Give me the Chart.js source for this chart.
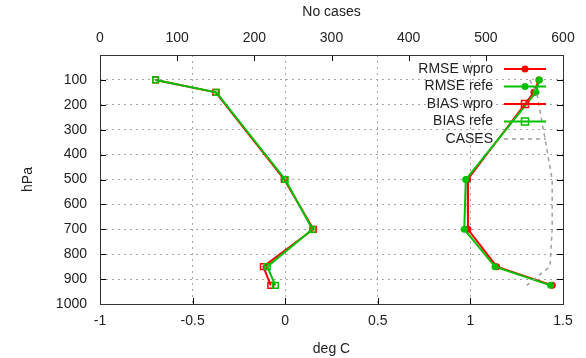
<!DOCTYPE html>
<html>
<head>
<meta charset="utf-8">
<script src="https://cdn.jsdelivr.net/npm/chart.js@4.4.0/dist/chart.umd.min.js"></script>
<style>
html,body{margin:0;padding:0;background:#fff}
#wrap{width:586px;height:358px}
</style>
</head>
<body>
<div id="wrap"><canvas id="myChart" width="586" height="358"></canvas></div>
<script>
// pressure levels (hPa)
const levels=[100,150,500,700,850,925];
// deg C
const rmseWpro=[1.37,1.343,0.985,0.987,1.142,1.442];
const rmseRefe=[1.372,1.354,0.975,0.967,1.133,1.433];
const biasWpro=[-0.70,-0.375,-0.005,0.152,-0.118,-0.078];
const biasRefe=[-0.70,-0.372,0.0,0.147,-0.097,-0.053];
// number of cases (top axis)
const cases=[557,566,586,586,583,553];

const xTicks=[-1,-0.5,0,0.5,1,1.5];
const x2Ticks=[0,100,200,300,400,500,600];
const yTicks=[100,200,300,400,500,600,700,800,900,1000];

const RED='#ff0000', GREEN='#00c000', GREY='#a0a0a0', TXT='#222';
const FONT='"Liberation Sans", Arial, sans-serif';

function pts(xs){
    let out=[];
    xs.map((v,i)=>{ out.push({x:v,y:levels[i]}) })
    return out;
}

const legendItems=[
    {label:'RMSE wpro',color:RED,style:'circle'},
    {label:'RMSE refe',color:GREEN,style:'circle'},
    {label:'BIAS wpro',color:RED,style:'rect'},
    {label:'BIAS refe',color:GREEN,style:'rect'},
    {label:'CASES',color:GREY,style:'dash'}
];

// gnuplot like border + inward ticks
const framePlugin={
    id:'frame',
    beforeDatasetsDraw(chart){
        const {ctx,chartArea:a,scales}=chart;
        ctx.save();
        ctx.strokeStyle='#000';
        ctx.lineWidth=1;
        ctx.beginPath();
        yTicks.forEach(v=>{
            if(v>=1000)return;
            let py=Math.round(scales.y.getPixelForValue(v))+0.5;
            ctx.moveTo(a.left,py);ctx.lineTo(a.left+6,py);
            ctx.moveTo(a.right,py);ctx.lineTo(a.right-6,py);
        })
        xTicks.forEach(v=>{
            if(v<=-1||v>=1.5)return;
            let px=Math.round(scales.x.getPixelForValue(v))+0.5;
            ctx.moveTo(px,a.bottom);ctx.lineTo(px,a.bottom-6);
        })
        x2Ticks.forEach(v=>{
            if(v<=0||v>=600)return;
            let px=Math.round(scales.x2.getPixelForValue(v))+0.5;
            ctx.moveTo(px,a.top);ctx.lineTo(px,a.top+6);
        })
        ctx.stroke();
        ctx.strokeStyle='#333';
        ctx.strokeRect(Math.round(a.left)+0.5,Math.round(a.top)+0.5,Math.round(a.right-a.left),Math.round(a.bottom-a.top));
        ctx.restore();
    }
};

const keyPlugin={
    id:'key',
    afterDatasetsDraw(chart){
        const {ctx}=chart;
        ctx.save();
        ctx.font='14px '+FONT;
        ctx.textAlign='right';
        ctx.textBaseline='middle';
        legendItems.forEach((it,i)=>{
            let y=69+i*17.5;
            ctx.fillStyle=TXT;
            ctx.fillText(it.label,493,y);
            ctx.strokeStyle=it.color;
            ctx.lineWidth=it.style=='dash'?1.5:2;
            ctx.setLineDash(it.style=='dash'?[4,4]:[]);
            ctx.beginPath();ctx.moveTo(504,y);ctx.lineTo(546,y);ctx.stroke();
            ctx.setLineDash([]);
            if(it.style=='circle'){
                ctx.fillStyle=it.color;
                ctx.beginPath();ctx.arc(525,y,3.5,0,Math.PI*2);ctx.fill();
            }else if(it.style=='rect'){
                ctx.lineWidth=1.5;
                ctx.strokeRect(521.5,y-3.5,7,7);
            }
        })
        ctx.restore();
    }
};

const plain=v=>String(v);

var ctx=document.getElementById('myChart').getContext('2d');
var myChart=new Chart(ctx,{
    type:'line',
    data:{
        datasets:[
            {label:'CASES',data:pts(cases),xAxisID:'x2',borderColor:GREY,borderWidth:1.5,borderDash:[4,4],pointRadius:0},
            {label:'BIAS refe',data:pts(biasRefe),borderColor:GREEN,borderWidth:2,pointStyle:'rect',pointRadius:4,pointBorderWidth:1.5,pointBackgroundColor:'rgba(0,0,0,0)',pointBorderColor:GREEN},
            {label:'BIAS wpro',data:pts(biasWpro),borderColor:RED,borderWidth:2,pointStyle:'rect',pointRadius:4,pointBorderWidth:1.5,pointBackgroundColor:'rgba(0,0,0,0)',pointBorderColor:RED},
            {label:'RMSE refe',data:pts(rmseRefe),borderColor:GREEN,borderWidth:2,pointStyle:'circle',pointRadius:3.5,pointBorderWidth:0,pointBackgroundColor:GREEN},
            {label:'RMSE wpro',data:pts(rmseWpro),borderColor:RED,borderWidth:2,pointStyle:'circle',pointRadius:3.5,pointBorderWidth:0,pointBackgroundColor:RED}
        ]
    },
    options:{
        responsive:false,
        animation:false,
        events:[],
        layout:{padding:{left:0,right:23,top:0,bottom:0}},
        plugins:{legend:{display:false},tooltip:{enabled:false}},
        scales:{
            x:{
                type:'linear',position:'bottom',min:-1,max:1.5,
                afterBuildTicks:s=>{s.ticks=xTicks.map(v=>({value:v}))},
                afterFit:s=>{s.height=54},
                grid:{drawTicks:false,color:c=>{let v=c.tick&&c.tick.value;return (v<=-1||v>=1.5)?'rgba(0,0,0,0)':'#a8a8a8'},lineWidth:1},
                border:{display:false,dash:[2,4]},
                ticks:{color:TXT,font:{size:14,family:FONT},padding:9,maxRotation:0,callback:plain},
                title:{display:true,text:'deg C',color:TXT,font:{size:14,family:FONT},padding:{top:0,bottom:0}}
            },
            x2:{
                type:'linear',position:'top',min:0,max:600,
                afterBuildTicks:s=>{s.ticks=x2Ticks.map(v=>({value:v}))},
                afterFit:s=>{s.height=55},
                grid:{drawTicks:false,drawOnChartArea:false},
                border:{display:false},
                ticks:{color:TXT,font:{size:14,family:FONT},padding:8,maxRotation:0,callback:plain},
                title:{display:true,text:'No cases',color:TXT,font:{size:14,family:FONT},padding:{top:4,bottom:0}}
            },
            y:{
                type:'linear',position:'left',min:0,max:1000,reverse:true,
                afterBuildTicks:s=>{s.ticks=yTicks.map(v=>({value:v}))},
                afterFit:s=>{s.width=100},
                grid:{drawTicks:false,color:c=>{let v=c.tick&&c.tick.value;return (v<=0||v>=1000)?'rgba(0,0,0,0)':'#a8a8a8'},lineWidth:1},
                border:{display:false,dash:[2,4]},
                ticks:{color:TXT,font:{size:14,family:FONT},padding:13,callback:plain},
                title:{display:true,text:'hPa',color:TXT,font:{size:14,family:FONT},padding:{top:20,bottom:0}}
            }
        }
    },
    plugins:[framePlugin,keyPlugin]
});
</script>
</body>
</html>
